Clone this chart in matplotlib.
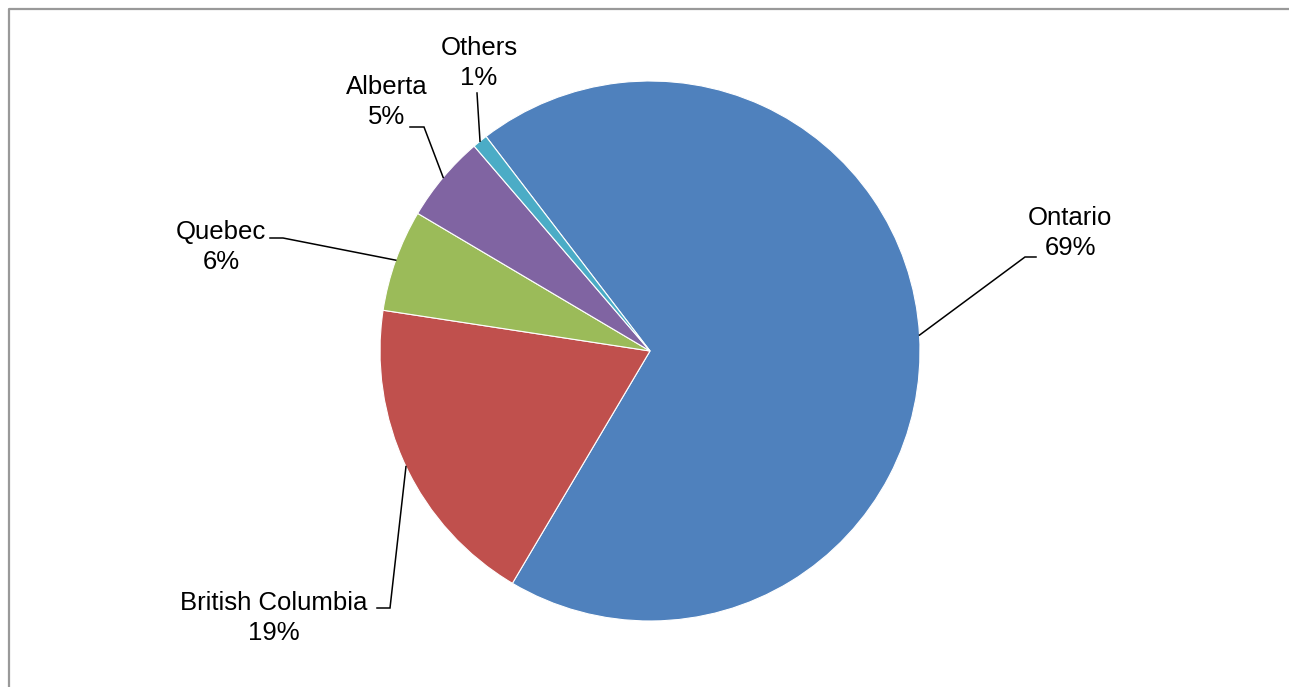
import numpy as np
import matplotlib.pyplot as plt
from matplotlib.lines import Line2D

# Share by province
provinces = ['Ontario', 'British Columbia', 'Quebec', 'Alberta', 'Others']
shares = [68.9, 18.9, 6.1, 5.2, 0.9]
colors = ['#4F81BD', '#C0504D', '#9BBB59', '#8064A2', '#4BACC6']

W, H = 1289, 687
# label layout in pixel coords (y measured from top): text centre, leader elbow, leader end
label_pos = [(1070, 233), (274, 618), (221, 247), (387, 102), (479, 63)]
elbows = [(1025, 257), (390, 608), (283, 238), (424, 127), (477, 93)]
ends = [(1036, 257), (377, 608), (270, 238), (410, 127), (477, 93)]

plt.rcParams['font.family'] = ['Liberation Sans', 'DejaVu Sans']

fig = plt.figure(figsize=(W / 100, H / 100), dpi=100)
ax = fig.add_axes([0, 0, 1, 1])

cx, cy, r = 650, H - 351, 270
start = 127.4
wedges, _ = ax.pie(shares, colors=colors, startangle=start, counterclock=False,
                   center=(cx, cy), radius=r, frame=True,
                   wedgeprops=dict(edgecolor='white', linewidth=0.8))
ax.set_xlim(0, W)
ax.set_ylim(0, H)
ax.set_aspect('equal')
ax.axis('off')

for w, name, val, (tx, ty), (ex, ey), (nx, ny) in zip(wedges, provinces, shares,
                                                         label_pos, elbows, ends):
    mid = np.deg2rad((w.theta1 + w.theta2) / 2)
    px, py = cx + r * np.cos(mid), cy + r * np.sin(mid)
    ax.plot([px, ex, nx], [py, H - ey, H - ny], color='black', lw=1.1,
            solid_joinstyle='miter')
    ax.text(tx, H - ty, f"{name}\n{val:.0f}%", ha='center', va='center',
            fontsize=18.5, linespacing=1.3, color='black')

# chart area frame (only top and left visible)
fig.add_artist(Line2D([8.5 / W, 8.5 / W, 1], [0, 1 - 8.5 / H, 1 - 8.5 / H],
                      transform=fig.transFigure, color='#999999', lw=1.6))

fig.savefig('out.png', dpi=100, facecolor='white')
